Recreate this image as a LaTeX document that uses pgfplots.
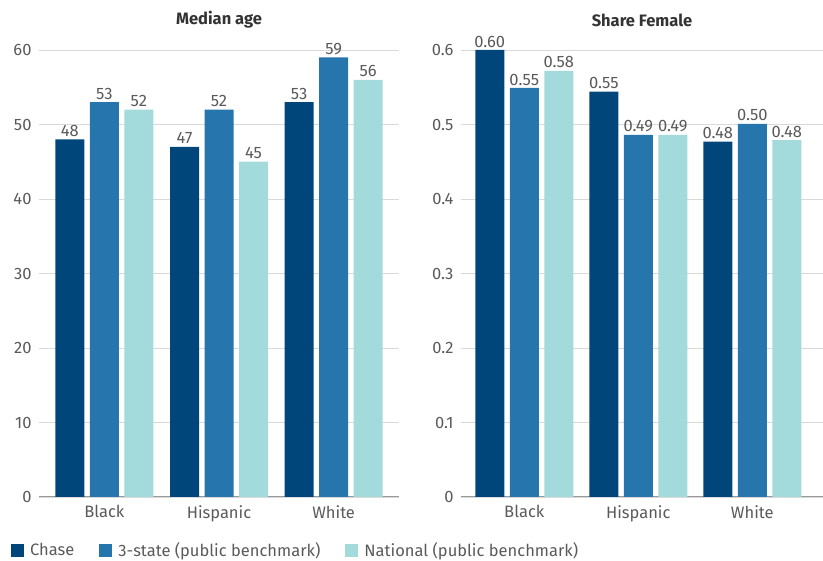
\documentclass[border=0pt]{standalone}
\usepackage{fontspec}
\setmainfont{Fira Sans}
\usepackage{pgfplots}
\pgfplotsset{compat=1.18}
\definecolor{cChase}{HTML}{00467A}
\definecolor{cThree}{HTML}{2675AD}
\definecolor{cNat}{HTML}{A3DADC}
\definecolor{txt}{HTML}{5A5A5A}
\definecolor{grd}{HTML}{D9D9D9}
\newcommand{\fs}{\fontsize{16.5}{19}\selectfont}
\pgfplotsset{mybar/.style={
  scale only axis, height=447pt,
  ybar=5.5pt, bar width=29pt,
  axis line style={draw=none},
  major tick length=0pt,
  ymajorgrids, grid style={grd, line width=0.8pt},
  xtick={0,1,2}, xticklabels={Black,Hispanic,White},
  tick label style={font=\fs, text=txt},
  yticklabel style={xshift=-4pt},
  xticklabel style={yshift=-5pt},
  /pgf/number format/assume math mode=true,
  nodes near coords, point meta=explicit symbolic,
  every node near coord/.append style={font=\fs, text=txt, inner sep=2.5pt},
  title style={font=\fs\bfseries, text=black!80, at={(0.5,1)}, anchor=center, yshift=24pt},
  clip=false,
  extra y ticks={0}, extra y tick labels={},
  extra y tick style={grid style={gray!80, line width=1pt}},
}}
\begin{document}
\begin{tikzpicture}
\useasboundingbox (0,0) rectangle (823pt,-561pt);
\begin{axis}[mybar, at={(39pt,-497pt)}, anchor=south west,
  width=360pt, xmin=-0.57, xmax=2.57, ymin=0, ymax=60,
  ytick={0,10,20,30,40,50,60},
  title={Median age},
  legend columns=3,
  legend style={draw=none, fill=none, at={(-0.078,-0.119)}, anchor=west, font=\fs, text=txt, inner xsep=0pt,
    /tikz/every odd column/.append style={column sep=4pt},
    /tikz/every even column/.append style={column sep=23pt}},
  legend image code/.code={\fill[#1] (0pt,-6.5pt) rectangle (13pt,6.5pt);},
]
\addplot[fill=cChase, draw=none] coordinates {(0,48) [48] (1,47) [47] (2,53) [53]};
\addplot[fill=cThree, draw=none] coordinates {(0,53) [53] (1,52) [52] (2,59) [59]};
\addplot[fill=cNat, draw=none] coordinates {(0,52) [52] (1,45) [45] (2,56) [56]};
\legend{Chase, 3-state (public benchmark), National (public benchmark)}
\end{axis}
\begin{axis}[mybar, at={(461pt,-497pt)}, anchor=south west,
  width=362pt, xmin=-0.555, xmax=2.62, ymin=0, ymax=0.6,
  ytick={0,0.1,0.2,0.3,0.4,0.5,0.6},
  yticklabels={0,0.1,0.2,0.3,0.4,0.5,0.6},
  title={Share Female},
]
\addplot[fill=cChase, draw=none] coordinates {(0,0.600) [0.60] (1,0.544) [0.55] (2,0.477) [0.48]};
\addplot[fill=cThree, draw=none] coordinates {(0,0.549) [0.55] (1,0.486) [0.49] (2,0.501) [0.50]};
\addplot[fill=cNat, draw=none] coordinates {(0,0.572) [0.58] (1,0.486) [0.49] (2,0.479) [0.48]};
\end{axis}
\end{tikzpicture}
\end{document}
